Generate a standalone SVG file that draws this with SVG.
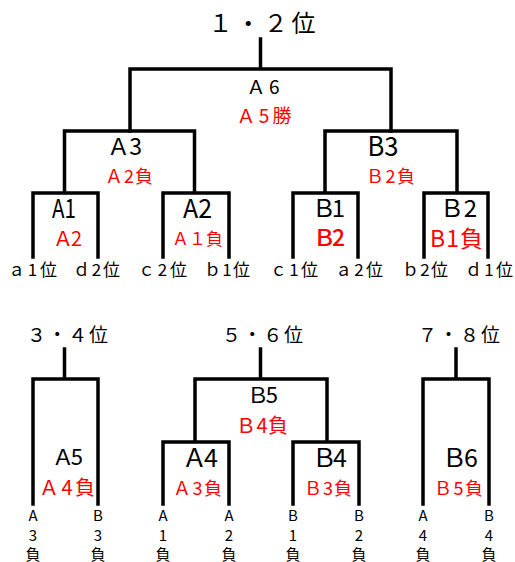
<svg xmlns="http://www.w3.org/2000/svg" width="515" height="562" viewBox="0 0 515 562">
<style>
.ln{fill:none;stroke:#000;stroke-width:3.5;stroke-linecap:square;stroke-linejoin:miter}
text{font-family:"Noto Sans CJK JP","Noto Sans",sans-serif;text-anchor:middle}
.k{fill:#000}
.r{fill:#ff0000}
.lb{font-size:17px;fill:#000}
.v{font-size:15px;fill:#000}
</style>
<rect width="515" height="562" fill="#fff"/>
<g id="connectors">
  <path class="ln" d="M260.5,39 V69 M130,131 V69 H391 V131"/>
  <path class="ln" d="M33,257 V193 H64.5 M64.5,131 V193 H98 V257 M64.5,131 H194.5 V193 M163,257 V193 H229 V257"/>
  <path class="ln" d="M293,257 V193 H325 M325,131 V193 H358 V257 M325,131 H457 V193 M424,257 V193 H488 V257"/>
  <path class="ln" d="M64.5,349 V379 M33,504 V379 H98 V504"/>
  <path class="ln" d="M260.5,349 V379 M195,442 V379 H327 V442 M163,504 V442 H229 V504 M293,504 V442 H359 V504"/>
  <path class="ln" d="M456,349 V379 M423,504 V379 H489 V504"/>
</g>
<g id="title12"><text class="k" x="262" y="32" font-size="24" textLength="107">１・２位</text></g>
<g id="A6"><text class="k" x="263" y="94" font-size="19" textLength="33">Ａ6</text><text class="r" x="264" y="123" font-size="19" textLength="55">Ａ5勝</text></g>
<g id="A3"><text class="k" x="124.5" y="155" font-size="23" textLength="35">Ａ3</text><text class="r" x="129" y="183" font-size="18" textLength="48">Ａ2負</text></g>
<g id="A1"><text class="k" x="64" y="218" font-size="26" textLength="24" lengthAdjust="spacingAndGlyphs">A1</text><text class="r" x="67.5" y="246" font-size="20" textLength="29">Ａ2</text></g>
<g id="A2"><text class="k" x="197.5" y="218" font-size="26" textLength="29" lengthAdjust="spacingAndGlyphs">A2</text><text class="r" x="197.5" y="245" font-size="17" textLength="51">Ａ１負</text></g>
<g id="B3"><text class="k" x="383" y="156" font-size="27" textLength="31" lengthAdjust="spacingAndGlyphs">B3</text><text class="r" x="390.5" y="183" font-size="18" textLength="49">Ｂ2負</text></g>
<g id="B1"><text class="k" x="328.5" y="217" font-size="24" textLength="33">Ｂ1</text><text class="r" x="329" y="246" font-size="23" font-weight="500" textLength="32">Ｂ2</text></g>
<g id="B2"><text class="k" x="458.5" y="217" font-size="24" textLength="37">Ｂ2</text><text class="r" x="456.5" y="247" font-size="23" textLength="53">B1負</text></g>
<g id="seeds">
  <text class="lb" x="32.5" y="276" textLength="49">ａ1位</text>
  <text class="lb" x="96.5" y="276" textLength="47">ｄ2位</text>
  <text class="lb" x="162.5" y="276" textLength="49">ｃ2位</text>
  <text class="lb" x="227" y="276" textLength="46">ｂ1位</text>
  <text class="lb" x="294" y="276" textLength="48">ｃ1位</text>
  <text class="lb" x="359" y="276" textLength="48">ａ2位</text>
  <text class="lb" x="425" y="276" textLength="46">ｂ2位</text>
  <text class="lb" x="489" y="276" textLength="48">ｄ1位</text>
</g>
<g id="title34"><text class="k" x="67.5" y="342" font-size="19" textLength="81">３・４位</text></g>
<g id="title56"><text class="k" x="262.5" y="342" font-size="19" textLength="81">５・６位</text></g>
<g id="title78"><text class="k" x="459" y="342" font-size="19" textLength="82">７・８位</text></g>
<g id="A5"><text class="k" x="67.5" y="465" font-size="22" textLength="31">Ａ5</text><text class="r" x="67" y="495" font-size="20" textLength="56">Ａ4負</text></g>
<g id="B5"><text class="k" x="262.5" y="403" font-size="22" textLength="31">Ｂ5</text><text class="r" x="262" y="433" font-size="20" textLength="52">Ｂ4負</text></g>
<g id="A4"><text class="k" x="200" y="467" font-size="25" textLength="36">Ａ4</text><text class="r" x="197.5" y="495" font-size="18" textLength="49">Ａ3負</text></g>
<g id="B4"><text class="k" x="329.5" y="467" font-size="25" textLength="35">Ｂ4</text><text class="r" x="328" y="495" font-size="18" textLength="48">Ｂ3負</text></g>
<g id="B6"><text class="k" x="460" y="467" font-size="25" textLength="36">Ｂ6</text><text class="r" x="458.5" y="495" font-size="18" textLength="49">Ｂ5負</text></g>
<g id="losers">
  <text class="v" x="33" y="521">A</text><text class="v" x="33" y="541">3</text><text class="v" x="33" y="560">負</text>
  <text class="v" x="98" y="521">B</text><text class="v" x="98" y="541">3</text><text class="v" x="98" y="560">負</text>
  <text class="v" x="163" y="521">A</text><text class="v" x="163" y="541">1</text><text class="v" x="163" y="560">負</text>
  <text class="v" x="229" y="521">A</text><text class="v" x="229" y="541">2</text><text class="v" x="229" y="560">負</text>
  <text class="v" x="293" y="521">B</text><text class="v" x="293" y="541">1</text><text class="v" x="293" y="560">負</text>
  <text class="v" x="359" y="521">B</text><text class="v" x="359" y="541">2</text><text class="v" x="359" y="560">負</text>
  <text class="v" x="423" y="521">A</text><text class="v" x="423" y="541">4</text><text class="v" x="423" y="560">負</text>
  <text class="v" x="489" y="521">B</text><text class="v" x="489" y="541">4</text><text class="v" x="489" y="560">負</text>
</g>
</svg>
